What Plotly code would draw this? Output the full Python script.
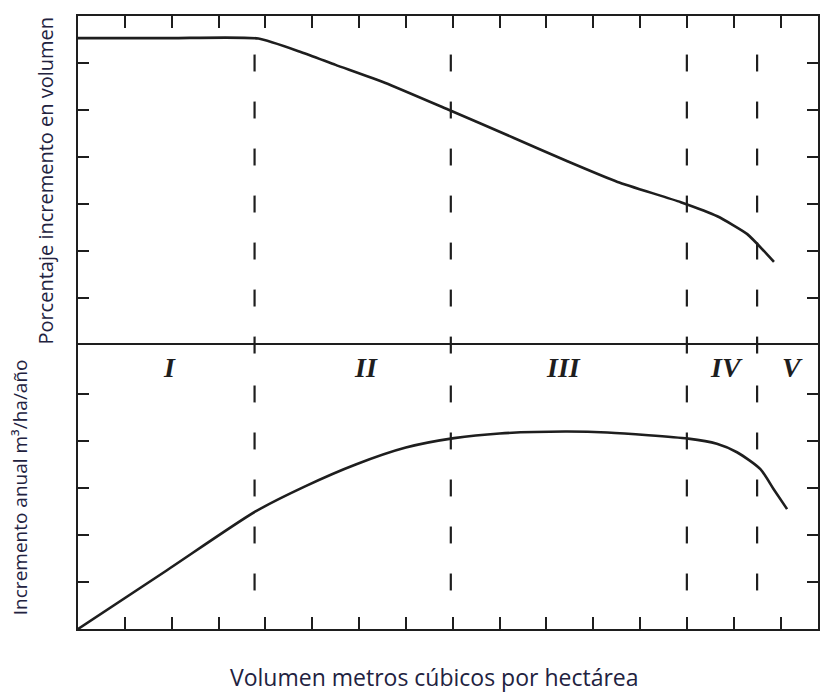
import plotly.graph_objects as go
from plotly.subplots import make_subplots

# ---- data ----
top_x = [0, 2.0, 3.85, 4.77, 5.5, 6.55, 7.9, 9.32, 10.45, 11.52, 12.87, 13.65, 14.29, 14.86]
top_y = [6.53, 6.53, 6.52, 6.23, 5.96, 5.58, 5.01, 4.4, 3.91, 3.47, 3.04, 2.74, 2.36, 1.77]

bottom_x = [0, 1.9, 3.79, 4.86, 5.93, 7.0, 8.03, 9.0, 10.4, 11.3, 13.03, 13.64, 14.07, 14.57, 14.85, 15.14]
bottom_y = [0, 1.25, 2.5, 3.04, 3.5, 3.86, 4.06, 4.16, 4.2, 4.18, 4.05, 3.94, 3.76, 3.4, 2.98, 2.55]

phase_bounds = [3.77, 7.96, 13.0, 14.5]
phase_labels = ["I", "II", "III", "IV", "V"]
phase_label_x = [1.95, 6.15, 10.36, 13.85, 15.25]
phase_label_y = 5.57

x_ticks = list(range(1, 16))
top_yticks = [1, 2, 3, 4, 5, 6]
bottom_yticks = [1, 2, 3, 4, 5]

X_MAX = 15.8
TOP_MAX = 7.0
BOT_MAX = 6.04
DASH_HALF = 0.18

INK = "#1e1e1e"
TXT = "#22223f"

fig = make_subplots(rows=2, cols=1, shared_xaxes=True, vertical_spacing=0,
                    row_heights=[TOP_MAX, BOT_MAX])

# dashed phase boundaries built as short segments centred on the y ticks
def dash_trace(xpos, centres, row):
    xs, ys = [], []
    for c in centres:
        xs += [xpos, xpos, None]
        ys += [c - DASH_HALF, c + DASH_HALF, None]
    fig.add_trace(go.Scatter(x=xs, y=ys, mode="lines",
                             line=dict(color=INK, width=2.2),
                             hoverinfo="skip", showlegend=False), row=row, col=1)

for b in phase_bounds:
    dash_trace(b, [0] + top_yticks, 1)
    dash_trace(b, bottom_yticks + [BOT_MAX], 2)

fig.add_trace(go.Scatter(x=top_x, y=top_y, mode="lines",
                         line=dict(color=INK, width=2.6, shape="spline", smoothing=0.5),
                         showlegend=False), row=1, col=1)
fig.add_trace(go.Scatter(x=bottom_x, y=bottom_y, mode="lines",
                         line=dict(color=INK, width=2.6, shape="spline", smoothing=0.7),
                         showlegend=False), row=2, col=1)

common_x = dict(range=[0, X_MAX], tickvals=x_ticks, ticks="inside", ticklen=12,
                tickwidth=2, tickcolor=INK, showticklabels=False, showline=True,
                linecolor=INK, linewidth=2, showgrid=False, zeroline=False)
fig.update_xaxes(**common_x, side="top", mirror=False, row=1, col=1)
fig.update_xaxes(**common_x, side="bottom", mirror=True, row=2, col=1)

common_y = dict(ticks="inside", ticklen=11, tickwidth=2, tickcolor=INK,
                showticklabels=False, showline=True, linecolor=INK, linewidth=2,
                mirror="ticks", showgrid=False, zeroline=False)
fig.update_yaxes(**common_y, range=[0, TOP_MAX], tickvals=top_yticks, row=1, col=1)
fig.update_yaxes(**common_y, range=[0, BOT_MAX], tickvals=bottom_yticks, row=2, col=1)

for lab, lx in zip(phase_labels, phase_label_x):
    fig.add_annotation(x=lx, y=phase_label_y, xref="x2", yref="y2",
                       text="<b><i>" + lab + "</i></b>",
                       showarrow=False, font=dict(family="Liberation Serif", size=28, color=INK))

L, R, T, B = 78, 3, 16, 63
W, H = 823, 692
pw = W - L - R
ph = H - T - B
top_frac = TOP_MAX / (TOP_MAX + BOT_MAX)
bot_frac = BOT_MAX / (TOP_MAX + BOT_MAX)

fig.add_annotation(xref="paper", yref="paper", x=(45 - L) / pw, y=1 - top_frac / 2,
                   text="Porcentaje incremento en volumen", textangle=-90, showarrow=False,
                   xanchor="center", yanchor="middle",
                   font=dict(family="Open Sans", size=20, color=TXT))
fig.add_annotation(xref="paper", yref="paper", x=(20 - L) / pw, y=bot_frac / 2,
                   text="Incremento anual m³/ha/año", textangle=-90, showarrow=False,
                   xanchor="center", yanchor="middle",
                   font=dict(family="Open Sans", size=19, color=TXT))
fig.add_annotation(xref="paper", yref="paper", x=(435 - L) / pw, y=-(677 - (H - B)) / ph,
                   text="Volumen metros cúbicos por hectárea", showarrow=False,
                   xanchor="center", yanchor="middle",
                   font=dict(family="Open Sans", size=23, color=TXT))

fig.update_layout(width=W, height=H, margin=dict(l=L, r=R, t=T, b=B),
                  plot_bgcolor="white", paper_bgcolor="white")

fig.write_html("out.html")
